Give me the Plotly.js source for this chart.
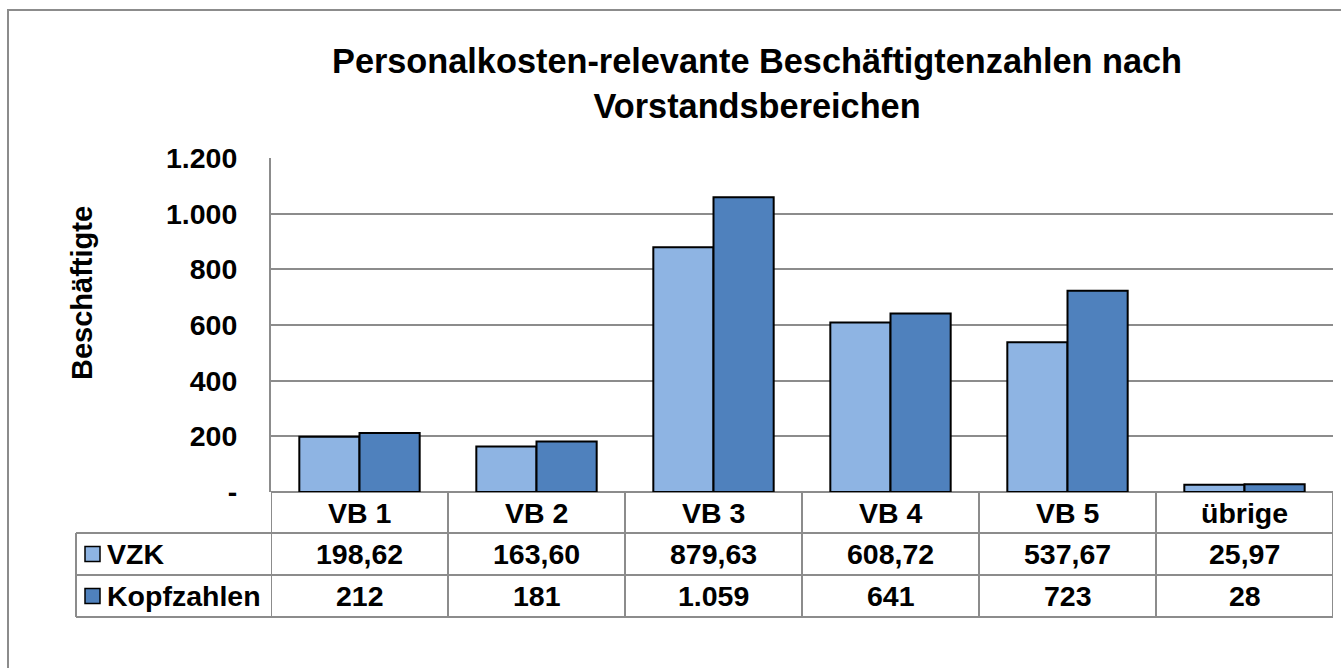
<!DOCTYPE html>
<html>
<head>
<meta charset="utf-8">
<script src="https://cdn.plot.ly/plotly-3.0.1.min.js"></script>
<style>html,body{margin:0;padding:0;background:#fff;}#chart{width:1341px;height:668px;}</style>
</head>
<body>
<div id="chart"></div>
<script>
const categories = ["VB 1", "VB 2", "VB 3", "VB 4", "VB 5", "übrige"];
const vzk = [198.62, 163.60, 879.63, 608.72, 537.67, 25.97];
const kopfzahlen = [212, 181, 1059, 641, 723, 28];
const seriesNames = ["VZK", "Kopfzahlen"];
const tickValues = [0, 200, 400, 600, 800, 1000, 1200];
const tickLabels = ["-", "200", "400", "600", "800", "1.000", "1.200"];

const W = 1341, H = 668;
const M = {l: 271, r: 8, t: 158, b: 176};
const plotW = W - M.l - M.r, plotH = H - M.t - M.b;
const px = x => (x - M.l) / plotW;
const py = y => (H - M.b - y) / plotH;

const FONT = "Liberation Sans, Arial, sans-serif";
const GRAY = "#8c8c8c";
const colors = ["#8EB4E3", "#4F81BD"];

function fmtDec(v) { return v.toFixed(2).replace('.', ','); }
function fmtInt(v) { return Math.round(v).toString().replace(/\B(?=(\d{3})+(?!\d))/g, '.'); }

const traces = [
  {type: 'bar', name: seriesNames[0], x: categories.map((c, i) => i), y: vzk,
   marker: {color: colors[0], line: {color: '#000', width: 2}}, hoverinfo: 'skip'},
  {type: 'bar', name: seriesNames[1], x: categories.map((c, i) => i), y: kopfzahlen,
   marker: {color: colors[1], line: {color: '#000', width: 2}}, hoverinfo: 'skip'}
];

const rowTop = 492, row1 = 533, row2 = 575, rowBot = 617;
const shapes = [];
const line = (x0, y0, x1, y1, xref) => shapes.push({type: 'line', xref: xref || 'paper', yref: 'paper',
  x0: x0, y0: y0, x1: x1, y1: y1, line: {color: GRAY, width: 2}, layer: 'above'});

// outer chart border (left & top visible)
shapes.push({type: 'rect', xref: 'paper', yref: 'paper', x0: px(8), y0: py(10), x1: px(1360), y1: py(700),
  line: {color: GRAY, width: 2}, fillcolor: 'rgba(0,0,0,0)', layer: 'below'});

// table horizontal lines
line(px(76), py(row1), px(1333), py(row1));
line(px(76), py(row2), px(1333), py(row2));
line(px(76), py(rowBot), px(1333), py(rowBot));
// table vertical lines
line(px(76), py(row1), px(76), py(rowBot));
for (let i = 0; i <= categories.length; i++) {
  line(i - 0.5, py(rowTop), i - 0.5, py(rowBot), 'x');
}

const annotations = [];
const tfont = {family: FONT, size: 28.5, color: '#000'};
categories.forEach((c, i) => {
  annotations.push({xref: 'x', yref: 'paper', x: i, y: py((rowTop + row1) / 2), text: '<b>' + c + '</b>',
    showarrow: false, xanchor: 'center', yanchor: 'middle', font: tfont});
  annotations.push({xref: 'x', yref: 'paper', x: i, y: py((row1 + row2) / 2), text: '<b>' + fmtDec(vzk[i]) + '</b>',
    showarrow: false, xanchor: 'center', yanchor: 'middle', font: tfont});
  annotations.push({xref: 'x', yref: 'paper', x: i, y: py((row2 + rowBot) / 2), text: '<b>' + fmtInt(kopfzahlen[i]) + '</b>',
    showarrow: false, xanchor: 'center', yanchor: 'middle', font: tfont});
});
// legend keys in table
[[row1, row2], [row2, rowBot]].forEach((r, k) => {
  const cy = (r[0] + r[1]) / 2;
  shapes.push({type: 'rect', xref: 'paper', yref: 'paper', x0: px(85), x1: px(100), y0: py(cy - 7.5), y1: py(cy + 7.5),
    fillcolor: colors[k], line: {color: '#000', width: 1.5}, layer: 'above'});
  annotations.push({xref: 'paper', yref: 'paper', x: px(105), y: py(cy), text: '<b>' + seriesNames[k] + '</b>',
    showarrow: false, xanchor: 'left', yanchor: 'middle', font: tfont});
});
// title
annotations.push({xref: 'paper', yref: 'paper', x: px(757), y: py(84),
  text: '<b>Personalkosten-relevante Beschäftigtenzahlen nach<br>Vorstandsbereichen</b>',
  showarrow: false, xanchor: 'center', yanchor: 'middle', font: {family: FONT, size: 34.3, color: '#000'}});
// y axis title
annotations.push({xref: 'paper', yref: 'paper', x: px(82), y: py(293), text: '<b>Beschäftigte</b>', textangle: -90,
  showarrow: false, xanchor: 'center', yanchor: 'middle', font: {family: FONT, size: 29, color: '#000'}});

const layout = {
  width: W, height: H, margin: M,
  paper_bgcolor: '#fff', plot_bgcolor: '#fff',
  showlegend: false, barmode: 'group', bargap: 0.32, bargroupgap: 0,
  xaxis: {range: [-0.5, categories.length - 0.5], showticklabels: false, showgrid: false, zeroline: false,
    showline: false, fixedrange: true},
  yaxis: {range: [0, 1200], tickvals: tickValues, ticktext: tickLabels, showgrid: true, gridcolor: GRAY, gridwidth: 2,
    zeroline: true, zerolinecolor: GRAY, zerolinewidth: 2, showline: true, linecolor: GRAY, linewidth: 2,
    ticks: '', ticklabelstandoff: 26, tickfont: {family: FONT, size: 28.5, color: '#000', weight: 'bold'}, fixedrange: true},
  shapes: shapes, annotations: annotations,
  font: {family: FONT}
};
Plotly.newPlot('chart', traces, layout, {displayModeBar: false, staticPlot: true});
</script>
</body>
</html>
